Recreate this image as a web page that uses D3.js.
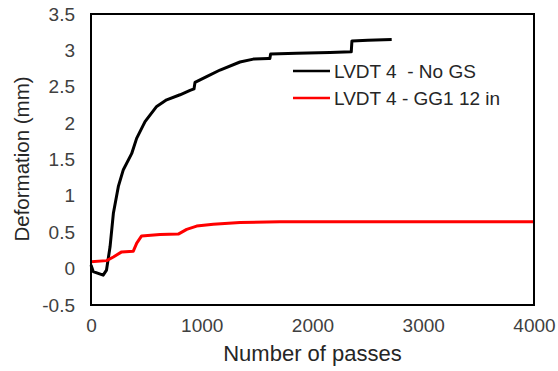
<!DOCTYPE html>
<html>
<head>
<meta charset="utf-8">
<script src="https://cdn.jsdelivr.net/npm/d3@7"></script>
<style>
  html, body { margin: 0; padding: 0; background: #fff; }
  svg { display: block; font-family: "Liberation Sans", Arial, sans-serif; }
</style>
</head>
<body>
<div id="chart"></div>
<script>
// passes vs deformation
const noGsPasses = [0, 20, 110, 140, 172, 202, 247, 292, 367, 412, 488, 593, 683, 804, 894, 930, 939, 1044, 1165, 1345, 1466, 1601, 1615, 1622, 1857, 2158, 2350, 2356, 2500, 2715];
const noGsDeform = [0.05, -0.04, -0.09, -0.02, 0.30, 0.76, 1.13, 1.36, 1.58, 1.79, 2.02, 2.23, 2.32, 2.39, 2.45, 2.47, 2.56, 2.64, 2.73, 2.84, 2.88, 2.89, 2.89, 2.95, 2.96, 2.97, 2.98, 3.13, 3.14, 3.15];

const gg1Passes = [0, 141, 202, 277, 382, 413, 457, 623, 788, 864, 954, 1104, 1345, 1706, 2500, 4000];
const gg1Deform = [0.095, 0.11, 0.16, 0.23, 0.24, 0.35, 0.45, 0.47, 0.475, 0.54, 0.585, 0.61, 0.635, 0.645, 0.645, 0.645];

const xTicks = [0, 1000, 2000, 3000, 4000];
const yTicks = [-0.5, 0, 0.5, 1, 1.5, 2, 2.5, 3, 3.5];
const seriesNames = ["LVDT 4  - No GS", "LVDT 4 - GG1 12 in"];
const seriesColors = ["#000000", "#ff0000"];

const W = 558, H = 371;
const plot = { left: 91, top: 14, right: 534, bottom: 305 };

const svg = d3.select("#chart").append("svg")
  .attr("width", W)
  .attr("height", H);

const x = d3.scaleLinear().domain([0, 4000]).range([plot.left, plot.right]);
const y = d3.scaleLinear().domain([-0.5, 3.5]).range([plot.bottom, plot.top]);

// axes (no tick marks, just labels)
const xAxis = svg.append("g")
  .attr("transform", "translate(0," + plot.bottom + ")")
  .call(d3.axisBottom(x).tickValues(xTicks).tickSize(0).tickPadding(14).tickFormat(d3.format("d")));
xAxis.select(".domain").remove();
xAxis.selectAll("text")
  .attr("font-size", "19px")
  .attr("font-family", "Liberation Sans, Arial, sans-serif")
  .attr("fill", "#404040");

const yAxis = svg.append("g")
  .attr("transform", "translate(" + plot.left + ",0)")
  .call(d3.axisLeft(y).tickValues(yTicks).tickSize(0).tickPadding(16).tickFormat(d => String(d)));
yAxis.select(".domain").remove();
yAxis.selectAll("text")
  .attr("font-size", "19px")
  .attr("font-family", "Liberation Sans, Arial, sans-serif")
  .attr("fill", "#404040");

// series
const line = d3.line()
  .x(d => x(d[0]))
  .y(d => y(d[1]));

const series = [
  d3.zip(noGsPasses, noGsDeform),
  d3.zip(gg1Passes, gg1Deform)
];

svg.selectAll(".series")
  .data(series)
  .enter()
  .append("path")
  .attr("class", "series")
  .attr("d", line)
  .attr("fill", "none")
  .attr("stroke", (d, i) => seriesColors[i])
  .attr("stroke-width", 3)
  .attr("stroke-linejoin", "round");

// plot frame
svg.append("rect")
  .attr("x", plot.left)
  .attr("y", plot.top)
  .attr("width", plot.right - plot.left)
  .attr("height", plot.bottom - plot.top)
  .attr("fill", "none")
  .attr("stroke", "#000")
  .attr("stroke-width", 2);

// axis titles
svg.append("text")
  .attr("x", (plot.left + plot.right) / 2)
  .attr("y", 361)
  .attr("text-anchor", "middle")
  .attr("font-size", "22px")
  .attr("fill", "#262626")
  .text("Number of passes");

svg.append("text")
  .attr("transform", "translate(29,159) rotate(-90)")
  .attr("text-anchor", "middle")
  .attr("font-size", "20.5px")
  .attr("fill", "#262626")
  .text("Deformation (mm)");

// legend
const legend = svg.append("g");
seriesNames.forEach((name, i) => {
  const ly = 71 + i * 27;
  legend.append("line")
    .attr("x1", 293).attr("x2", 330)
    .attr("y1", ly).attr("y2", ly)
    .attr("stroke", seriesColors[i])
    .attr("stroke-width", 2.5);
  legend.append("text")
    .attr("x", 334)
    .attr("y", ly)
    .attr("dy", "0.35em")
    .attr("font-size", "19px")
    .attr("fill", "#262626")
    .style("white-space", "pre")
    .text(name);
});
</script>
</body>
</html>
